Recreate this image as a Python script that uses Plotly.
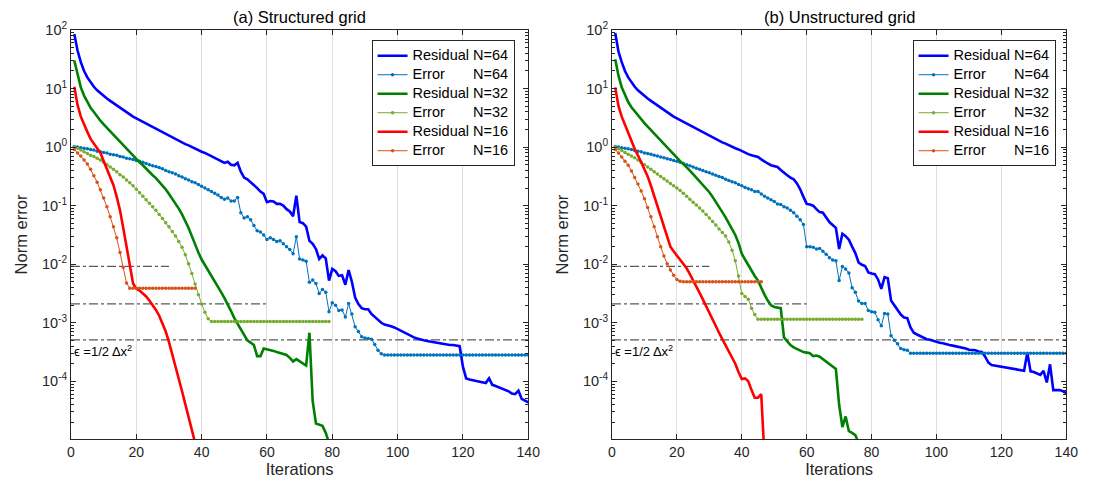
import plotly.graph_objects as go

# ---------------- DATA (log10 of the norm values, one value per iteration) ----------------
# Panel (a) Structured grid
res64_a = [1.93, 1.65, 1.45, 1.30, 1.19, 1.10, 1.03, 0.97, 0.92, 0.87,
           0.83, 0.79, 0.75, 0.71, 0.67, 0.63, 0.59, 0.56, 0.52, 0.49,
           0.46, 0.43, 0.40, 0.37, 0.34, 0.31, 0.28, 0.25, 0.22, 0.19,
           0.17, 0.14, 0.11, 0.08, 0.05, 0.03, 0.00, -0.03, -0.05, -0.08,
           -0.10, -0.13, -0.16, -0.18, -0.21, -0.24, -0.27, -0.25, -0.30, -0.31,
           -0.27, -0.42, -0.52, -0.55, -0.60, -0.64, -0.70, -0.76, -0.80, -0.94,
           -0.92, -0.93, -0.97, -0.97, -1.00, -1.06, -1.10, -1.18, -0.83, -1.28,
           -1.30, -1.36, -1.60, -1.65, -1.74, -1.91, -1.85, -1.90, -2.28, -2.08,
           -2.12, -2.20, -2.19, -2.35, -2.10, -2.30, -2.57, -2.68, -2.75, -2.77,
           -2.77, -2.85, -2.90, -2.95, -3.00, -3.03, -3.04, -3.06, -3.08, -3.11,
           -3.14, -3.17, -3.20, -3.23, -3.25, -3.27, -3.29, -3.30, -3.31, -3.32,
           -3.33, -3.34, -3.35, -3.37, -3.38, -3.38, -3.38, -3.39, -3.40, -3.75,
           -3.95, -3.97, -3.98, -3.99, -4.00, -4.01, -4.03, -3.95, -4.06, -4.08,
           -4.10, -4.12, -4.14, -4.17, -4.21, -4.22, -4.16, -4.30, -4.33, -4.36]
err64_a = [0.01, 0.00, -0.01, -0.02, -0.03, -0.04, -0.05, -0.07, -0.08, -0.09,
           -0.10, -0.12, -0.13, -0.14, -0.16, -0.17, -0.19, -0.20, -0.21, -0.23,
           -0.24, -0.26, -0.28, -0.30, -0.32, -0.33, -0.35, -0.37, -0.40, -0.42,
           -0.44, -0.46, -0.49, -0.51, -0.54, -0.56, -0.59, -0.61, -0.64, -0.67,
           -0.70, -0.73, -0.76, -0.79, -0.82, -0.86, -0.89, -0.87, -0.92, -0.92,
           -0.86, -1.12, -1.21, -1.19, -1.24, -1.34, -1.43, -1.45, -1.50, -1.58,
           -1.55, -1.58, -1.61, -1.60, -1.65, -1.70, -1.75, -1.82, -1.53, -1.91,
           -1.93, -1.95, -2.31, -2.27, -2.33, -2.50, -2.43, -2.48, -2.81, -2.66,
           -2.70, -2.79, -2.78, -2.90, -2.67, -2.85, -3.07, -3.15, -3.24, -3.26,
           -3.27, -3.28, -3.37, -3.47, -3.53, -3.55, -3.55, -3.55, -3.55, -3.55,
           -3.55, -3.55, -3.55, -3.55, -3.55, -3.55, -3.55, -3.55, -3.55, -3.55,
           -3.55, -3.55, -3.55, -3.55, -3.55, -3.55, -3.55, -3.55, -3.55, -3.55,
           -3.55, -3.55, -3.55, -3.55, -3.55, -3.55, -3.55, -3.55, -3.55, -3.55,
           -3.55, -3.55, -3.55, -3.55, -3.55, -3.55, -3.55, -3.55, -3.55, -3.55]
res32_a = [1.48, 1.22, 1.02, 0.88, 0.77, 0.67, 0.60, 0.52, 0.45, 0.39,
           0.33, 0.27, 0.21, 0.15, 0.10, 0.04, -0.02, -0.08, -0.14, -0.20,
           -0.26, -0.31, -0.37, -0.43, -0.48, -0.53, -0.59, -0.65, -0.72, -0.80,
           -0.88, -0.96, -1.05, -1.15, -1.26, -1.38, -1.52, -1.67, -1.80, -1.92,
           -2.01, -2.10, -2.19, -2.28, -2.38, -2.48, -2.58, -2.68, -2.80, -2.92,
           -3.02, -3.12, -3.22, -3.30, -3.34, -3.38, -3.57, -3.57, -3.44, -3.45,
           -3.46, -3.48, -3.50, -3.52, -3.53, -3.55, -3.60, -3.66, -3.62, -3.66,
           -3.69, -3.73, -3.17, -4.34, -4.72, -4.74, -4.76, -4.88, -5.05]
err32_a = [0.00, -0.02, -0.05, -0.08, -0.11, -0.14, -0.16, -0.19, -0.22, -0.26,
           -0.30, -0.34, -0.38, -0.42, -0.47, -0.51, -0.56, -0.61, -0.66, -0.72,
           -0.78, -0.84, -0.90, -0.96, -1.02, -1.08, -1.15, -1.22, -1.29, -1.36,
           -1.44, -1.52, -1.61, -1.71, -1.84, -1.99, -2.16, -2.34, -2.52, -2.68,
           -2.82, -2.93, -2.98, -2.98, -2.98, -2.98, -2.98, -2.98, -2.98, -2.98,
           -2.98, -2.98, -2.98, -2.98, -2.98, -2.98, -2.98, -2.98, -2.98, -2.98,
           -2.98, -2.98, -2.98, -2.98, -2.98, -2.98, -2.98, -2.98, -2.98, -2.98,
           -2.98, -2.98, -2.98, -2.98, -2.98, -2.98, -2.98, -2.98, -2.98]
res16_a = [1.03, 0.72, 0.52, 0.38, 0.26, 0.14, 0.05, -0.02, -0.10, -0.23,
           -0.36, -0.50, -0.65, -0.85, -1.08, -1.38, -1.70, -2.05, -2.33, -2.42,
           -2.45, -2.50, -2.55, -2.62, -2.69, -2.78, -2.88, -3.00, -3.15, -3.33,
           -3.53, -3.74, -3.96, -4.17, -4.39, -4.61, -4.83, -5.05]
err16_a = [-0.04, -0.10, -0.15, -0.22, -0.29, -0.38, -0.49, -0.60, -0.73, -0.87,
           -1.02, -1.19, -1.36, -1.55, -1.80, -2.05, -2.32, -2.41, -2.41, -2.41,
           -2.41, -2.41, -2.41, -2.41, -2.41, -2.41, -2.41, -2.41, -2.41, -2.41,
           -2.41, -2.41, -2.41, -2.41, -2.41, -2.41, -2.41, -2.41]

# Panel (b) Unstructured grid
res64_b = [1.95, 1.63, 1.45, 1.30, 1.19, 1.10, 1.03, 0.97, 0.92, 0.87,
           0.83, 0.79, 0.75, 0.71, 0.67, 0.63, 0.59, 0.56, 0.52, 0.49,
           0.46, 0.43, 0.40, 0.37, 0.34, 0.31, 0.28, 0.25, 0.22, 0.19,
           0.17, 0.14, 0.11, 0.08, 0.06, 0.03, 0.01, -0.02, -0.04, -0.07,
           -0.09, -0.12, -0.14, -0.16, -0.17, -0.21, -0.25, -0.28, -0.31, -0.33,
           -0.34, -0.39, -0.44, -0.48, -0.52, -0.55, -0.62, -0.72, -0.85, -0.97,
           -0.98, -1.00, -1.06, -1.11, -1.12, -1.20, -1.28, -1.33, -1.38, -1.74,
           -1.48, -1.52, -1.58, -1.70, -1.81, -1.97, -2.01, -2.03, -2.14, -2.16,
           -2.17, -2.26, -2.42, -2.22, -2.24, -2.62, -2.70, -2.78, -2.86, -2.91,
           -2.92, -3.08, -3.17, -3.20, -3.23, -3.26, -3.28, -3.29, -3.31, -3.32,
           -3.34, -3.35, -3.37, -3.38, -3.39, -3.40, -3.41, -3.42, -3.44, -3.46,
           -3.46, -3.47, -3.49, -3.50, -3.58, -3.68, -3.72, -3.73, -3.74, -3.75,
           -3.76, -3.77, -3.77, -3.78, -3.79, -3.80, -3.82, -3.51, -3.83, -3.84,
           -3.86, -3.89, -3.82, -4.02, -3.71, -4.15, -4.15, -4.15, -4.17, -4.20]
err64_b = [0.01, 0.00, -0.01, -0.02, -0.03, -0.04, -0.06, -0.07, -0.08, -0.10,
           -0.11, -0.12, -0.14, -0.15, -0.17, -0.18, -0.20, -0.21, -0.23, -0.24,
           -0.26, -0.28, -0.30, -0.32, -0.34, -0.36, -0.38, -0.40, -0.42, -0.44,
           -0.46, -0.48, -0.50, -0.52, -0.55, -0.57, -0.59, -0.61, -0.64, -0.66,
           -0.69, -0.71, -0.73, -0.76, -0.76, -0.80, -0.84, -0.87, -0.90, -0.93,
           -0.97, -0.98, -1.02, -1.04, -1.08, -1.12, -1.18, -1.24, -1.32, -1.70,
           -1.70, -1.71, -1.74, -1.73, -1.78, -1.83, -1.89, -1.93, -1.94, -2.28,
           -2.04, -2.08, -2.15, -2.40, -2.48, -2.63, -2.67, -2.67, -2.79, -2.81,
           -2.82, -2.95, -3.05, -2.84, -2.85, -3.22, -3.30, -3.36, -3.44, -3.46,
           -3.47, -3.52, -3.52, -3.52, -3.52, -3.52, -3.52, -3.52, -3.52, -3.52,
           -3.52, -3.52, -3.52, -3.52, -3.52, -3.52, -3.52, -3.52, -3.52, -3.52,
           -3.52, -3.52, -3.52, -3.52, -3.52, -3.52, -3.52, -3.52, -3.52, -3.52,
           -3.52, -3.52, -3.52, -3.52, -3.52, -3.52, -3.52, -3.52, -3.52, -3.52,
           -3.52, -3.52, -3.52, -3.52, -3.52, -3.52, -3.52, -3.52, -3.52, -3.52]
res32_b = [1.50, 1.22, 1.02, 0.88, 0.77, 0.68, 0.61, 0.53, 0.47, 0.41,
           0.35, 0.29, 0.23, 0.17, 0.11, 0.05, -0.01, -0.07, -0.13, -0.19,
           -0.24, -0.29, -0.34, -0.40, -0.46, -0.52, -0.58, -0.64, -0.70, -0.77,
           -0.85, -0.93, -1.02, -1.11, -1.20, -1.30, -1.40, -1.50, -1.64, -1.82,
           -1.92, -2.02, -2.12, -2.20, -2.28, -2.41, -2.52, -2.62, -2.70, -2.73,
           -2.74, -2.75, -3.25, -3.32, -3.38, -3.42, -3.45, -3.48, -3.50, -3.51,
           -3.52, -3.57, -3.56, -3.58, -3.62, -3.66, -3.70, -3.74, -3.79, -4.40,
           -4.78, -4.60, -4.85, -4.88, -4.92, -5.05]
err32_b = [0.00, -0.03, -0.06, -0.09, -0.12, -0.15, -0.18, -0.22, -0.26, -0.30,
           -0.34, -0.38, -0.42, -0.46, -0.50, -0.54, -0.58, -0.62, -0.66, -0.70,
           -0.74, -0.79, -0.84, -0.89, -0.94, -0.99, -1.04, -1.09, -1.15, -1.21,
           -1.27, -1.33, -1.40, -1.46, -1.52, -1.62, -1.76, -1.94, -2.20, -2.50,
           -2.55, -2.60, -2.75, -2.86, -2.94, -2.94, -2.94, -2.94, -2.94, -2.94,
           -2.94, -2.94, -2.94, -2.94, -2.94, -2.94, -2.94, -2.94, -2.94, -2.94,
           -2.94, -2.94, -2.94, -2.94, -2.94, -2.94, -2.94, -2.94, -2.94, -2.94,
           -2.94, -2.94, -2.94, -2.94, -2.94, -2.94, -2.94]
res16_b = [1.02, 0.70, 0.52, 0.38, 0.24, 0.10, -0.03, -0.14, -0.26, -0.38,
           -0.50, -0.66, -0.84, -1.02, -1.20, -1.38, -1.56, -1.70, -1.78, -1.85,
           -1.91, -1.98, -2.07, -2.17, -2.27, -2.38, -2.49, -2.60, -2.72, -2.83,
           -2.95, -3.06, -3.17, -3.28, -3.38, -3.49, -3.60, -3.70, -3.84, -3.96,
           -3.95, -4.00, -4.15, -4.28, -4.28, -4.22, -5.30]
err16_b = [-0.04, -0.10, -0.17, -0.24, -0.31, -0.41, -0.52, -0.63, -0.75, -0.88,
           -1.03, -1.19, -1.36, -1.53, -1.70, -1.86, -1.99, -2.10, -2.19, -2.26,
           -2.29, -2.30, -2.30, -2.30, -2.30, -2.30, -2.30, -2.30, -2.30, -2.30,
           -2.30, -2.30, -2.30, -2.30, -2.30, -2.30, -2.30, -2.30, -2.30, -2.30,
           -2.30, -2.30, -2.30, -2.30, -2.30, -2.30]

# epsilon = 1/2 dx^2 reference levels and how far (in iterations) each line runs
eps_levels = [9.2e-3, 2.1e-3, 5.1e-4]
eps_extent = [30, 60, 140]

NB = "\u00a0" * 7
series_names = ["Residual N=64", "Error" + NB + "N=64",
                "Residual N=32", "Error" + NB + "N=32",
                "Residual N=16", "Error" + NB + "N=16"]
panel_titles = ["(a) Structured grid", "(b) Unstructured grid"]
x_ticks = [0, 20, 40, 60, 80, 100, 120, 140]
y_ticks = [1e-4, 1e-3, 1e-2, 1e-1, 1e0, 1e1, 1e2]
y_ticktext = ["10<sup>-4</sup>", "10<sup>-3</sup>", "10<sup>-2</sup>", "10<sup>-1</sup>",
              "10<sup>0</sup>", "10<sup>1</sup>", "10<sup>2</sup>"]

# ---------------- STYLE ----------------
FONT = "Liberation Sans, Arial, Helvetica, sans-serif"
AX = "#262626"
colors = ["#0000FF", "#0072BD", "#008000", "#77AC30", "#FF0000", "#D95319"]
is_error = [False, True, False, True, False, True]

panels = [
    [res64_a, err64_a, res32_a, err32_a, res16_a, err16_a],
    [res64_b, err64_b, res32_b, err32_b, res16_b, err16_b],
]

fig = go.Figure()

for p, data in enumerate(panels):
    xa = "x" if p == 0 else "x2"
    ya = "y" if p == 0 else "y2"
    lg = "legend" if p == 0 else "legend2"
    # reference lines
    for lev, ext in zip(eps_levels, eps_extent):
        fig.add_trace(go.Scatter(x=[0, ext], y=[lev, lev], mode="lines",
                                 line=dict(color="#5a5a5a", width=1.2, dash="dashdot"),
                                 showlegend=False, hoverinfo="skip", xaxis=xa, yaxis=ya))
    for k, vals in enumerate(data):
        it = list(range(1, len(vals) + 1))
        yv = [10 ** v for v in vals]
        label = '<span style="font-size:14.5px">' + series_names[k] + "</span>"
        if is_error[k]:
            tr = go.Scatter(x=it, y=yv, mode="lines+markers", name=label,
                            line=dict(color=colors[k], width=1),
                            marker=dict(color=colors[k], size=3.5, symbol="circle"),
                            xaxis=xa, yaxis=ya, legend=lg)
        else:
            tr = go.Scatter(x=it, y=yv, mode="lines", name=label,
                            line=dict(color=colors[k], width=2.6),
                            xaxis=xa, yaxis=ya, legend=lg)
        fig.add_trace(tr)

minor_vals = [m * 10 ** e for e in range(-5, 2) for m in range(2, 10)]

def xaxis_style(domain, anchor):
    return dict(domain=domain, anchor=anchor, range=[0, 140], tickmode="array",
                tickvals=x_ticks, ticks="inside", ticklen=5, tickcolor=AX,
                showline=True, linecolor=AX, linewidth=1, mirror="ticks",
                showgrid=True, gridcolor="#dedede", gridwidth=1, zeroline=False,
                tickfont=dict(family=FONT, size=14, color=AX),
                title=dict(text="Iterations", font=dict(family=FONT, size=16.5, color=AX), standoff=1))

def yaxis_style(anchor):
    return dict(anchor=anchor, type="log", range=[-4.985, 2], tickmode="array",
                tickvals=y_ticks, ticktext=y_ticktext, ticks="inside", ticklen=5,
                tickcolor=AX, showline=True, linecolor=AX, linewidth=1, mirror="ticks",
                showgrid=False, zeroline=False,
                minor=dict(tickmode="array", tickvals=minor_vals, ticks="inside",
                           ticklen=3, tickcolor=AX, showgrid=False),
                tickfont=dict(family=FONT, size=14.5, color=AX),
                title=dict(text="Norm error", font=dict(family=FONT, size=16.5, color=AX), standoff=10))

legend_common = dict(xanchor="left", yanchor="top", bgcolor="white", bordercolor=AX,
                     borderwidth=1, font=dict(family=FONT, size=10, color="black"),
                     tracegroupgap=0, itemwidth=30)

fig.update_layout(
    width=1096, height=479,
    margin=dict(l=0, r=0, t=30, b=40),
    paper_bgcolor="white", plot_bgcolor="white",
    xaxis=xaxis_style([68 / 1096, 532 / 1096], "y"),
    xaxis2=xaxis_style([617 / 1096, 1078 / 1096], "y2"),
    yaxis=yaxis_style("x"),
    yaxis2=yaxis_style("x2"),
    legend=dict(x=373 / 1096, y=0.975, **legend_common),
    legend2=dict(x=922 / 1096, y=0.975, **legend_common),
)

annotations = []
for p, title in enumerate(panel_titles):
    xr = "x domain" if p == 0 else "x2 domain"
    yr = "y domain" if p == 0 else "y2 domain"
    annotations.append(dict(text=title, x=0.5, y=1, xref=xr, yref=yr, xanchor="center",
                            yanchor="bottom", yshift=2, showarrow=False,
                            font=dict(family=FONT, size=16.5, color="black")))
    annotations.append(dict(text="\u03f5 =1/2 \u0394x<sup>2</sup>", x=0.4, y=-3.48,
                            xref="x" if p == 0 else "x2", yref="y" if p == 0 else "y2",
                            xanchor="left", yanchor="middle", showarrow=False,
                            font=dict(family=FONT, size=13, color="black")))
fig.update_layout(annotations=annotations)

fig.write_html("out.html")
